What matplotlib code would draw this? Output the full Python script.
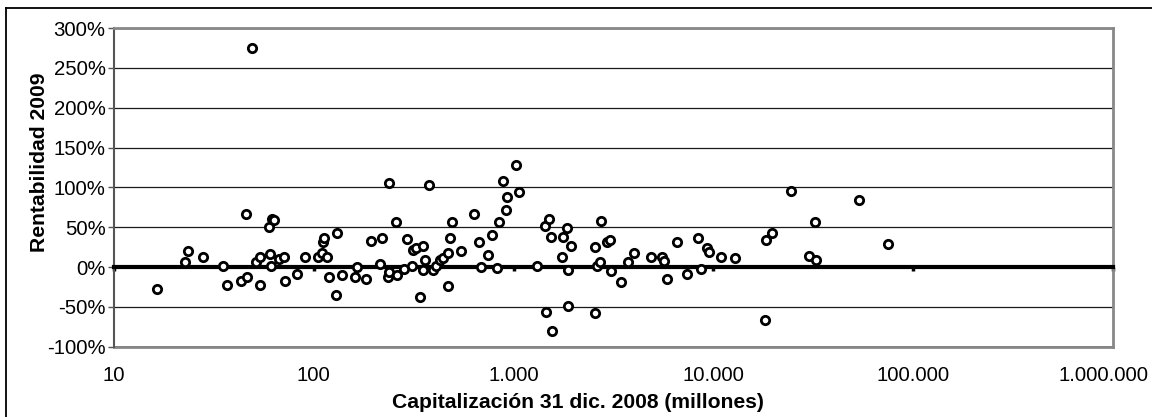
import matplotlib
matplotlib.use("Agg")
import matplotlib.pyplot as plt
from matplotlib.ticker import FuncFormatter, FixedLocator, NullLocator
from matplotlib.lines import Line2D
from matplotlib.transforms import ScaledTranslation

# Capitalización 31 dic. 2008 (millones)
capitalizacion = [
    16.4, 22.7, 23.5, 27.9, 35, 36.8, 43, 45.8, 46.5, 49.2, 51.2, 53.6, 53.8,
    59.9, 60.5, 61, 62, 63.4, 67, 70.7, 71.4, 82.6,
    90.4, 105, 110, 111.5, 112, 116, 119.6, 129, 130, 139, 160.7, 164, 182.5,
    192.7, 214, 218.6, 234.5, 237, 238, 257, 262, 284, 291.7, 310, 312.6,
    324.7, 340, 351, 353, 361.6, 378.6, 396, 409, 428.5, 441, 469.6, 472,
    480.6, 491.7, 543, 633.6, 669, 687, 741, 782, 828, 847, 882, 912, 924,
    1024, 1060, 1305, 1441, 1445, 1503, 1538, 1559, 1741, 1774, 1858, 1866,
    1879, 1938,
    2553, 2553, 2626, 2705, 2737, 2944, 3037, 3073, 3460, 3724, 4006, 4853,
    5546, 5659, 5877, 6550, 7349, 8404, 8641, 9259, 9539, 10955, 12826,
    18058, 18330, 19580, 24450, 30200, 32370, 32620, 53700, 75060,
]
# Rentabilidad 2009 (%)
rentabilidad = [
    -28, 6, 20, 12, 1.6, -22, -17, 66, -12, 274.5, 6.6, -22, 13,
    50, 16.6, 0.8, 60, 59, 10, 12.5, -17.5, -9,
    12, 13, 17.5, 32, 36, 12.5, -12.5, -35, 43, -9.6, -12.5, -0.5, -14.6,
    33, 4, 36, -12.5, 106, -6, 56, -9.6, -2.5, 35, 1.6, 21.6,
    24.5, -37.5, -3.4, 26, 9, 103, -3.4, 0.8, 9, 11, 17.5, -24,
    37, 56, 20, 66, 32, -0.5, 15, 40, -1.3, 56, 108, 72, 88,
    128, 94, 1.6, 51, -57, 60, 38, -80.5, 13, 37.5, 49, -49,
    -3.4, 26.6,
    25, -57.5, 1.6, 6, 58, 32, 34, -5.5, -19, 6, 17.5, 12,
    12.5, 7, -15, 31, -9, 36, -2.5, 24.5, 19, 12.5, 11,
    -66, 34, 42.5, 96, 14, 56, 9, 84, 29,
]

x_ticks = [10, 100, 1000, 10000, 100000, 1000000]
y_ticks = [-100, -50, 0, 50, 100, 150, 200, 250, 300]
x_title = "Capitalización 31 dic. 2008 (millones)"
y_title = "Rentabilidad 2009"

plt.rcParams['font.family'] = ['Liberation Sans', 'DejaVu Sans']

W, H = 1152, 417
fig = plt.figure(figsize=(W / 100, H / 100), dpi=100)
left, right, top, bottom = 114, 1113, 28, 346.7
ax = fig.add_axes([left / W, 1 - bottom / H, (right - left) / W, (bottom - top) / H])

ax.set_xscale('log')
ax.set_xlim(x_ticks[0], x_ticks[-1])
ax.set_ylim(y_ticks[0], y_ticks[-1])

# horizontal gridlines
ax.yaxis.set_major_locator(FixedLocator(y_ticks))
ax.grid(axis='y', color='#1a1a1a', linewidth=0.9)
ax.grid(axis='x', visible=False)
ax.set_axisbelow(True)

# y axis
ax.yaxis.set_major_formatter(FuncFormatter(lambda v, p: f"{v:.0f}%"))
ax.tick_params(axis='y', direction='out', length=4.5, width=1.0, color='#555555',
               labelsize=14.7, pad=1.5, labelcolor='black')
ax.spines['left'].set_color('#555555')
ax.spines['left'].set_linewidth(1.5)

# x axis line at 0 with ticks
ax.spines['bottom'].set_position(('data', 0))
ax.spines['bottom'].set_color('black')
ax.spines['bottom'].set_linewidth(3.0)
ax.xaxis.set_major_locator(FixedLocator(x_ticks))
ax.xaxis.set_minor_locator(NullLocator())
ax.tick_params(axis='x', direction='out', length=3.0, width=2.5, color='black',
               labelbottom=False)

for s in ('top', 'right'):
    ax.spines[s].set_color('#888888')
    ax.spines[s].set_linewidth(2.0)

# labels at the bottom of the plot area
sec = ax.secondary_xaxis('bottom')
sec.xaxis.set_major_locator(FixedLocator(x_ticks))
sec.xaxis.set_minor_locator(NullLocator())
sec.xaxis.set_major_formatter(FuncFormatter(lambda v, p: f"{int(round(v)):,}".replace(",", ".")))
sec.tick_params(axis='x', length=0, pad=14, labelsize=14.7)
sec.spines['bottom'].set_color('#888888')
sec.spines['bottom'].set_linewidth(2.0)

ax.scatter(capitalizacion, rentabilidad, s=36, facecolors='white', edgecolors='black',
           linewidths=2.0, zorder=3)

fig.text(578 / W, 1 - 408 / H, x_title, ha='center', va='baseline',
         fontsize=15.2, fontweight='bold')
fig.text(45 / W, 1 - 162 / H, y_title, ha='center', va='baseline', rotation=90,
         rotation_mode='anchor', fontsize=15.2, fontweight='bold')

# outer chart frame (left and top edges visible)
fig.add_artist(Line2D([5.5 / W, 5.5 / W], [0, 1 - 8.3 / H], transform=fig.transFigure,
                      color='black', linewidth=1.3))
fig.add_artist(Line2D([5.5 / W, 1], [1 - 8.3 / H, 1 - 8.3 / H], transform=fig.transFigure,
                      color='black', linewidth=1.3))

# keep the last x label inside the chart, as in the reference
fig.canvas.draw()
last = sec.xaxis.get_ticklabels()[-1]
last.set_transform(last.get_transform() + ScaledTranslation(-10 / 100, 0, fig.dpi_scale_trans))

fig.savefig("out.png", dpi=100)
